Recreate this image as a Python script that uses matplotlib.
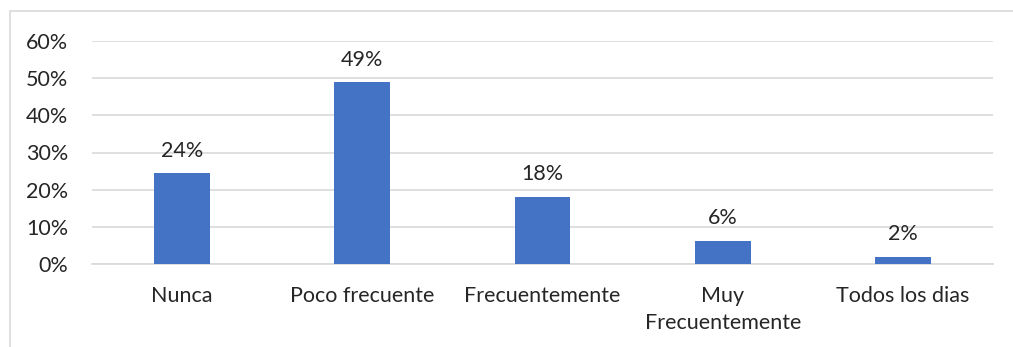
import matplotlib
matplotlib.use("Agg")
import matplotlib.pyplot as plt
from matplotlib.patches import Rectangle
from matplotlib.ticker import PercentFormatter

categories = ["Nunca", "Poco frecuente", "Frecuentemente", "Muy\nFrecuentemente", "Todos los dias"]
values = [24.5, 49.0, 18.1, 6.3, 2.0]
labels = ["24%", "49%", "18%", "6%", "2%"]

plt.rcParams['font.family'] = ['Lato', 'DejaVu Sans']
W, H = 1013, 347
FS = 15.5
fig = plt.figure(figsize=(W/100, H/100), dpi=100)
fig.patches.append(Rectangle((10/W, -0.1), 1.1, 1 - 11/H + 0.1, transform=fig.transFigure,
                             fill=False, edgecolor='#D9D9D9', linewidth=1.2))
ax = fig.add_axes([92/W, 1 - 264/H, (993-92)/W, (264-41)/H])
x = range(len(categories))
bars = ax.bar(x, values, width=0.31, color='#4472C4', zorder=3)
for b, lab in zip(bars, labels):
    ax.text(b.get_x() + b.get_width()/2, b.get_height() + 3.3, lab, ha='center', va='bottom',
            fontsize=FS, color='#262626')
ax.set_xlim(-0.5, len(categories) - 0.5)
ax.set_ylim(0, 60)
ax.set_yticks(range(0, 61, 10))
ax.yaxis.set_major_formatter(PercentFormatter(decimals=0))
ax.set_xticks(list(x))
ax.set_xticklabels(categories, fontsize=FS, color='#262626', linespacing=1.45)
ax.tick_params(axis='y', labelsize=FS, colors='#262626', length=0, pad=17)
ax.tick_params(axis='x', length=0, pad=16)
ax.grid(axis='y', color='#D9D9D9', linewidth=1.2, zorder=0)
for s in ['top', 'right', 'left']:
    ax.spines[s].set_visible(False)
ax.spines['bottom'].set_color('#D9D9D9')
ax.spines['bottom'].set_linewidth(1.2)
fig.savefig("out.png", dpi=100)
